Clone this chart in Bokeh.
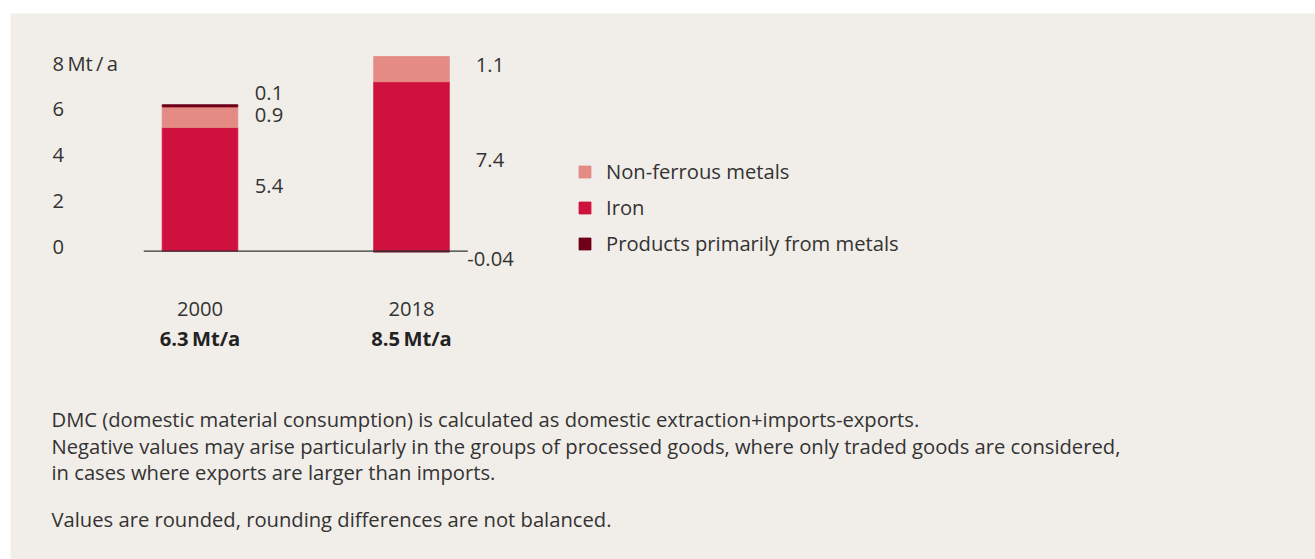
from bokeh.plotting import figure
from bokeh.models import Range1d, Label, Legend, LegendItem
from bokeh.embed import file_html
from bokeh.resources import INLINE

# ---------------- data ----------------
years = ["2000", "2018"]
totals = ["6.3", "8.5"]
iron = [5.4, 7.4]
nonferrous = [0.9, 1.1]
products = [0.1, -0.04]
tick_values = [0, 2, 4, 6, 8]
tick_labels = ["0", "2", "4", "6", "8\u2009Mt\u2009/\u2009a"]
series_names = ["Iron", "Non-ferrous metals", "Products primarily from metals"]
legend_order = ["Non-ferrous metals", "Iron", "Products primarily from metals"]
notes = [
    "DMC (domestic material consumption) is calculated as domestic extraction+imports-exports.",
    "Negative values may arise particularly in the groups of processed goods, where only traded goods are considered,",
    "in cases where exports are larger than imports.",
    "Values are rounded, rounding differences are not balanced.",
]

# ---------------- styles ----------------
BG = "#f1ede9"
TXT = "#333333"
FONT = "Open Sans"
FS = "20.2px"
SHIFT = 8          # text baseline correction (px, upward)
colors = {"Iron": "#cf1140", "Non-ferrous metals": "#e48b86",
          "Products primarily from metals": "#6e001a"}
W, H = 1305, 546
PX_X, X0 = 211.5, 189.5      # px per x unit, local x of first bar
PX_Y, Y0 = 22.9, 308.3       # px per y unit, local y(from bottom) of zero
BAR_W = 0.3575

p = figure(width=W, height=H, output_backend="svg", toolbar_location=None,
           x_range=Range1d(-X0 / PX_X, (W - X0) / PX_X),
           y_range=Range1d(-Y0 / PX_Y, (H - Y0) / PX_Y),
           x_axis_type=None, y_axis_type=None, min_border=0)
p.margin = (13, 0, 0, 10)
p.background_fill_color = BG
p.border_fill_color = BG
p.outline_line_color = None
p.grid.visible = False

xs = list(range(len(years)))
series = {"Iron": iron, "Non-ferrous metals": nonferrous,
          "Products primarily from metals": products}

pos_base = [0.0] * len(xs)
neg_base = [0.0] * len(xs)
renderers = {}
segments = {}
for name in series_names:
    vals = series[name]
    bottoms, tops = [], []
    for i, v in enumerate(vals):
        if v >= 0:
            b, t = pos_base[i], pos_base[i] + v
            pos_base[i] = t
        else:
            b, t = neg_base[i] + v, neg_base[i]
            neg_base[i] = b
        bottoms.append(b)
        tops.append(t)
    segments[name] = (bottoms, tops)
    renderers[name] = p.vbar(x=xs, bottom=bottoms, top=tops, width=BAR_W,
                             fill_color=colors[name], line_color=colors[name],
                             line_width=0.8)

# baseline
p.segment(x0=[xs[0] - 0.266], x1=[xs[-1] + 0.266], y0=[0], y1=[0],
          line_color=TXT, line_width=1.2)

# value labels (label offsets in px: x, y)
label_offsets = {
    ("Iron", 0): (17, -4.4), ("Non-ferrous metals", 0): (17, -5.6),
    ("Products primarily from metals", 0): (17, 4.8),
    ("Iron", 1): (26.5, -1.3), ("Non-ferrous metals", 1): (26.5, -3.7),
    ("Products primarily from metals", 1): (18, -15.3),
}
for name in series_names:
    bottoms, tops = segments[name]
    for i, v in enumerate(series[name]):
        dx, dy = label_offsets[(name, i)]
        p.add_layout(Label(x=xs[i] + BAR_W / 2, y=(bottoms[i] + tops[i]) / 2,
                           x_offset=dx, y_offset=dy + SHIFT, text=str(v),
                           text_font=FONT, text_font_size=FS,
                           text_color=TXT, text_baseline="alphabetic",
                           text_align="left"))

# y tick labels
for v, t in zip(tick_values, tick_labels):
    p.add_layout(Label(x=42, x_units="screen", y=v, y_units="data",
                       y_offset=-3.3 + SHIFT, text=t, text_font=FONT,
                       text_font_size=FS, text_color=TXT,
                       text_baseline="alphabetic", text_align="left"))

# category labels and totals
for i, (yr, tot) in enumerate(zip(years, totals)):
    p.add_layout(Label(x=xs[i], y=243 + SHIFT, y_units="screen", text=yr,
                       text_font=FONT, text_font_size=FS, text_color=TXT,
                       text_baseline="alphabetic", text_align="center"))
    p.add_layout(Label(x=xs[i], y=214 + SHIFT, y_units="screen",
                       text=tot + "\u2009Mt/a", text_font=FONT,
                       text_font_size=FS, text_font_style="bold",
                       text_color="#222222", text_baseline="alphabetic",
                       text_align="center"))

# notes
note_y = [132.3, 105.8, 79.3, 32.3]
for t, y in zip(notes, note_y):
    p.add_layout(Label(x=41, x_units="screen", y=y + SHIFT, y_units="screen",
                       text=t, text_font=FONT, text_font_size=FS,
                       text_color=TXT, text_baseline="alphabetic",
                       text_align="left"))

# legend
items = [LegendItem(label=n, renderers=[renderers[n]]) for n in legend_order]
legend = Legend(items=items, location=(567, 302), orientation="vertical",
                glyph_width=15, glyph_height=15, label_standoff=14,
                spacing=8, padding=0, margin=0,
                label_text_font=FONT, label_text_font_size=FS,
                label_text_color=TXT, border_line_color=None,
                background_fill_alpha=0)
p.add_layout(legend, "center")

open("out.html", "w").write(file_html(p, INLINE))
